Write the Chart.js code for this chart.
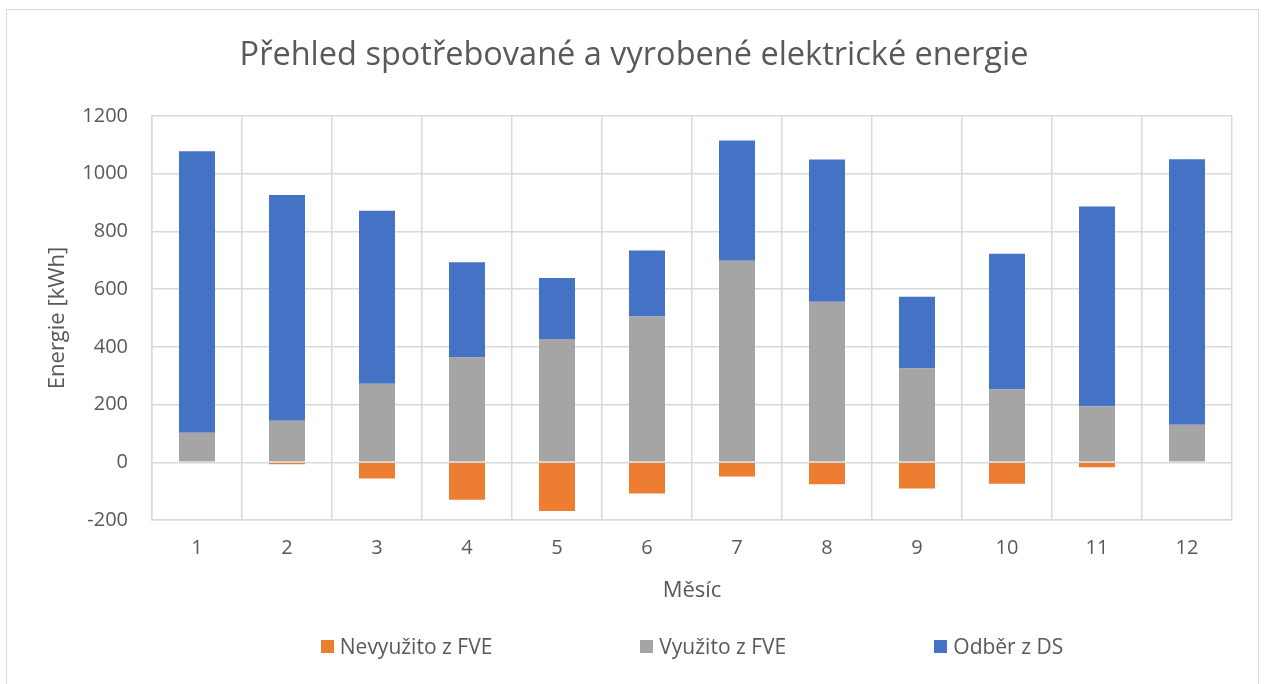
<!DOCTYPE html>
<html>
<head>
<meta charset="utf-8">
<script src="https://cdn.jsdelivr.net/npm/chart.js@4"></script>
<style>
  html, body { margin: 0; padding: 0; background: #fff; overflow: hidden; }
  body { width: 1264px; height: 684px; position: relative; font-family: "Open Sans", sans-serif; }
  #frame { position: absolute; left: 6px; top: 9px; width: 1253px; height: 700px; border: 1.5px solid #d9d9d9; box-sizing: border-box; }
  #wrap { position: absolute; left: 0; top: 0; width: 1264px; height: 684px; }
  #legend { position: absolute; left: 152px; width: 1080px; top: 632px; display: flex; justify-content: center; gap: 148px; color: #595959; font-size: 21px; }
  #legend .item { display: flex; align-items: center; white-space: nowrap; }
  #legend .box { width: 13px; height: 13px; margin-right: 6px; }
</style>
</head>
<body>
<div id="frame"></div>
<div id="wrap"><canvas id="chart"></canvas></div>
<div id="legend"></div>
<script>
const mesice = ['1', '2', '3', '4', '5', '6', '7', '8', '9', '10', '11', '12'];
const nevyuzito = [0, -7, -56, -130, -169, -108, -49, -76, -91, -74, -17, 0];
const vyuzito = [102, 144, 272, 363, 427, 505, 698, 556, 325, 253, 194, 130];
const odber = [976, 782, 600, 330, 212, 229, 417, 493, 249, 470, 692, 920];

const textColor = '#595959';
const gridColor = '#d9d9d9';

const ctx = document.getElementById('chart').getContext('2d');

const chart = new Chart(ctx, {
  type: 'bar',
  data: {
    labels: mesice,
    datasets: [
      { label: 'Nevyužito z FVE', data: nevyuzito, backgroundColor: '#ED7D31' },
      { label: 'Využito z FVE', data: vyuzito, backgroundColor: '#A5A5A5' },
      { label: 'Odběr z DS', data: odber, backgroundColor: '#4472C4' }
    ]
  },
  options: {
    responsive: true,
    maintainAspectRatio: false,
    animation: false,
    datasets: { bar: { categoryPercentage: 0.8, barPercentage: 0.5 } },
    layout: { padding: { left: 36, right: 32, top: 10, bottom: 80 } },
    plugins: {
      legend: { display: false },
      tooltip: { enabled: false },
      title: {
        display: true,
        text: 'Přehled spotřebované a vyrobené elektrické energie',
        color: textColor,
        font: { family: 'Open Sans', size: 32.5, weight: 'normal' },
        padding: { top: 26, bottom: 41 }
      }
    },
    scales: {
      x: {
        stacked: true,
        grid: { color: gridColor, lineWidth: 1.5, drawTicks: false },
        border: { color: gridColor, width: 1.5 },
        ticks: { color: textColor, font: { family: 'Open Sans', size: 20 }, padding: 16 },
        title: { display: true, text: 'Měsíc', color: textColor, font: { family: 'Open Sans', size: 22 }, padding: 0 },
        afterFit: (scale) => { scale.height = 84; }
      },
      y: {
        stacked: true,
        min: -200,
        max: 1200,
        grid: { color: gridColor, lineWidth: 1.5, drawTicks: false },
        border: { color: gridColor, width: 1.5 },
        ticks: {
          stepSize: 200,
          color: textColor,
          font: { family: 'Open Sans', size: 20 },
          padding: 24,
          callback: (v) => String(v)
        },
        title: { display: true, text: 'Energie [kWh]', color: textColor, font: { family: 'Open Sans', size: 22 }, padding: 9 },
        afterFit: (scale) => { scale.width = 116; }
      }
    }
  }
});

// legenda jako HTML, rozestupy jako v Excelu
const legendEl = document.getElementById('legend');
chart.data.datasets.forEach(ds => {
  const item = document.createElement('div');
  item.className = 'item';
  const box = document.createElement('span');
  box.className = 'box';
  box.style.background = ds.backgroundColor;
  const txt = document.createElement('span');
  txt.textContent = ds.label;
  item.appendChild(box);
  item.appendChild(txt);
  legendEl.appendChild(item);
});
</script>
</body>
</html>
